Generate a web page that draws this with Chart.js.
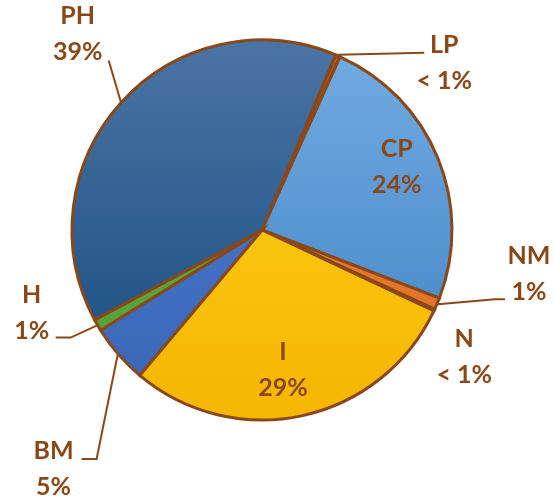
<!DOCTYPE html>
<html>
<head>
<meta charset="utf-8">
<title>Pie</title>
<script src="https://cdn.jsdelivr.net/npm/chart.js@4/dist/chart.umd.min.js"></script>
<style>
    html, body { margin: 0; padding: 0; background: #fff; }
    #wrap { width: 554px; height: 498px; }
</style>
</head>
<body>
<div id="wrap"><canvas id="pieChart" width="554" height="498"></canvas></div>
<script>
// ============================================
// Data
// ============================================
const categories = ['LP', 'CP', 'NM', 'N', 'I', 'BM', 'H', 'PH'];
const shares = [0.4, 24, 1, 0.15, 29, 5, 1, 39];
const shareLabels = ['< 1%', '24%', '1%', '< 1%', '29%', '5%', '1%', '39%'];

// Slice fills: [top, bottom] of a vertical gradient
const sliceFills = [
    ['#B35C24', '#A04C18'],
    ['#72ACE2', '#3F81C4'],
    ['#F0843A', '#DE6C22'],
    ['#A8501A', '#984618'],
    ['#FFD21E', '#F5B600'],
    ['#4C7ED2', '#3A64B6'],
    ['#68B244', '#539A34'],
    ['#4A74A4', '#164A7E']
];

const brown = '#8A4818';
const labelFont = 'bold 25px Lato, "Open Sans", sans-serif';
const lineGap = 36;

// Label placement, relative to the point on the rim at the slice's mid angle.
// text: centre of the first line; leader: polyline from the rim outwards
const labelLayout = [
    { text: [106, -10], leader: [[86, -2]] },
    { text: [-42, -8], leader: [] },
    { text: [91, -48], leader: [[57, -5], [67, -5]] },
    { text: [29, 28], leader: [] },
    { text: [-20, -65], leader: [] },
    { text: [-64, 96], leader: [[-21, 104], [-36, 104]] },
    { text: [-65, -31], leader: [[-26, 12], [-41, 12]] },
    { text: [-43, -86], leader: [[-12, -41]] }
];

// ============================================
// Gradient fill per slice
// ============================================
function sliceGradient(ctx) {
    const chart = ctx.chart;
    const area = chart.chartArea;
    const pair = sliceFills[ctx.dataIndex] || sliceFills[0];
    if (!area) return pair[0];
    const g = chart.ctx.createLinearGradient(0, area.top, 0, area.bottom);
    g.addColorStop(0, pair[0]);
    g.addColorStop(1, pair[1]);
    return g;
}

// ============================================
// Labels + leader lines
// ============================================
const pieLabels = {
    id: 'pieLabels',
    afterDatasetsDraw(chart) {
        const c = chart.ctx;
        const arcs = chart.getDatasetMeta(0).data;
        c.save();
        c.font = labelFont;
        c.fillStyle = brown;
        c.strokeStyle = brown;
        c.lineWidth = 2;
        c.textAlign = 'center';
        c.textBaseline = 'middle';
        arcs.forEach((arc, i) => {
            const p = arc.getProps(['x', 'y', 'startAngle', 'endAngle', 'outerRadius'], true);
            const mid = (p.startAngle + p.endAngle) / 2;
            const r = p.outerRadius + 1;
            const ex = p.x + r * Math.cos(mid);
            const ey = p.y + r * Math.sin(mid);
            const lay = labelLayout[i];

            if (lay.leader.length) {
                c.beginPath();
                c.moveTo(ex, ey);
                lay.leader.forEach(pt => c.lineTo(ex + pt[0], ey + pt[1]));
                c.stroke();
            }

            const tx = ex + lay.text[0];
            const ty = ey + lay.text[1];
            c.fillText(categories[i], tx, ty);
            c.fillText(shareLabels[i], tx, ty + lineGap);
        });
        c.restore();
    }
};

// ============================================
// Chart
// ============================================
function drawChart() {
    new Chart(document.getElementById('pieChart'), {
        type: 'pie',
        data: {
            labels: categories,
            datasets: [{
                data: shares,
                backgroundColor: sliceGradient,
                borderColor: brown,
                borderWidth: 3,
                borderJoinStyle: 'miter'
            }]
        },
        options: {
            responsive: false,
            animation: false,
            rotation: 22.8,
            layout: { padding: { left: 70.5, top: 38.5, right: 100.5, bottom: 76.5 } },
            plugins: {
                legend: { display: false },
                tooltip: { enabled: false }
            }
        },
        plugins: [pieLabels]
    });
}

if (document.fonts && document.fonts.load) {
    document.fonts.load(labelFont).then(drawChart, drawChart);
} else {
    drawChart();
}
</script>
</body>
</html>
